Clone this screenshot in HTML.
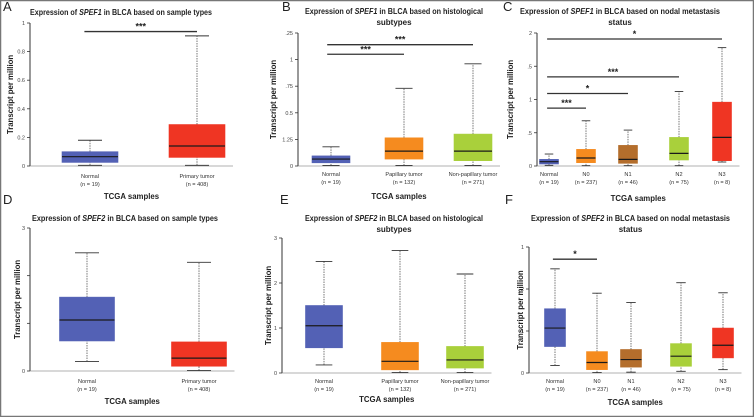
<!DOCTYPE html>
<html><head><meta charset="utf-8"><style>
html,body{margin:0;padding:0;background:#fff;}
svg{display:block;font-family:"Liberation Sans",sans-serif;}
</style></head><body>
<svg id="fig" width="754" height="417" viewBox="0 0 754 417" xmlns="http://www.w3.org/2000/svg">
<rect x="0.5" y="0.5" width="753" height="416" fill="#fff" stroke="#777" stroke-width="1.5"/>
</svg>
<script>
// ---------- data ----------
const catsA = ["Normal","Primary tumor"];
const nA = [19,408];
const statsA = [[0.005,0.025,0.065,0.10,0.18],[0.005,0.06,0.14,0.29,0.91]];
const ticksA = [0,0.2,0.4,0.6,0.8,1];
const tickLabelsA = ["0","0.2","0.4","0.6","0.8","1"];

const catsB = ["Normal","Papillary tumor","Non-papillary tumor"];
const nB = [19,132,271];
const statsB = [[0.005,0.03,0.065,0.095,0.18],[0.005,0.065,0.14,0.265,0.73],[0.005,0.05,0.14,0.30,0.96]];
const ticksB = [0,0.25,0.5,0.75,1,1.25];
const tickLabelsB = ["0","1.25","0.5",".75","1",".25"];

const catsC = ["Normal","N0","N1","N2","N3"];
const nC = [19,237,46,75,8];
const statsC = [[0.01,0.03,0.065,0.10,0.18],[0.005,0.05,0.12,0.25,0.68],[0.005,0.04,0.10,0.31,0.54],[0.005,0.09,0.19,0.43,1.12],[0.06,0.08,0.43,0.96,1.78]];
const ticksC = [0,0.5,1,1.5,2];
const tickLabelsC = ["0",".5","1",".5","2"];

const catsD = ["Normal","Primary tumor"];
const nD = [19,408];
const statsD = [[0.2,0.63,1.07,1.55,2.48],[0.01,0.10,0.27,0.61,2.28]];
const ticksD = [0,1,2,3];
const tickLabelsD = ["0","","","3"];

const catsE = ["Normal","Papillary tumor","Non-papillary tumor"];
const nE = [19,132,271];
const statsE = [[0.18,0.56,1.05,1.50,2.48],[0.01,0.07,0.26,0.68,2.72],[0.01,0.11,0.29,0.59,2.20]];
const ticksE = [0,1,2,3];
const tickLabelsE = ["0","1","2","3"];

const catsF = ["Normal","N0","N1","N2","N3"];
const nF = [19,237,46,75,8];
const statsF = [[0.18,0.63,1.07,1.53,2.48],[0.01,0.08,0.25,0.51,1.90],[0.02,0.14,0.32,0.56,1.68],[0.04,0.16,0.40,0.70,2.15],[0.08,0.36,0.66,1.07,1.91]];
const ticksF = [0,1,2,3];
const tickLabelsF = ["0","1","2","1"];

// significance: [fromIndex, toIndex, label, yValue]
const sigA = [[0,1,"***",0.94]];
const sigB = [[0,2,"***",1.14],[0,1,"***",1.05]];
const sigC = [[0,4,"*",1.91],[0,3,"***",1.34],[0,2,"*",1.09],[0,1,"***",0.87]];
const sigF = [[0,1,"*",2.71]];

// ---------- layout (pixels) ----------
const NS="http://www.w3.org/2000/svg";
const svg=document.getElementById('fig');
function el(tag,attrs,parent){const e=document.createElementNS(NS,tag);for(const k in attrs)e.setAttribute(k,attrs[k]);(parent||svg).appendChild(e);return e;}
const blue="#5361b5",red="#ef3523",orange="#f58b1f",brown="#b46e2c",green="#a9d03b";

const panels=[
 {id:"a",letter:"A",lx:3,ly:11,gene:"SPEF1",title:["based on sample types"],tx:30,ty:15,tw:182,axisX:30,yTop:23,yBot:166,ymax:1,ticks:ticksA,tl:tickLabelsA,cats:catsA,n:nA,stats:statsA,cx:[90,197],bw:56,colors:[blue,red],sig:sigA,labY:178,tcgaY:199,yTitleX:10},
 {id:"b",letter:"B",lx:282,ly:11,gene:"SPEF1",title:["based on histological","subtypes"],tx:305,ty:14,tw:178,axisX:298,yTop:33,yBot:166,ymax:1.25,ticks:ticksB,tl:tickLabelsB,cats:catsB,n:nB,stats:statsB,cx:[331,404,473],bw:38,colors:[blue,orange,green],sig:sigB,labY:176,tcgaY:199,yTitleX:273},
 {id:"c",letter:"C",lx:503,ly:11,gene:"SPEF1",title:["based on nodal metastasis","status"],tx:520,ty:14,tw:200,axisX:537,yTop:33,yBot:166,ymax:2,ticks:ticksC,tl:tickLabelsC,cats:catsC,n:nC,stats:statsC,cx:[549,586,628,679,722],bw:19,colors:[blue,orange,brown,green,red],sig:sigC,labY:176,tcgaY:201,yTitleX:510},
 {id:"d",letter:"D",lx:3,ly:204,gene:"SPEF2",title:["based on sample types"],tx:32,ty:221,tw:186,axisX:30,yTop:228,yBot:371,ymax:3,ticks:ticksD,tl:tickLabelsD,cats:catsD,n:nD,stats:statsD,cx:[87,199],bw:55,colors:[blue,red],sig:[],labY:383,tcgaY:404,yTitleX:17},
 {id:"e",letter:"E",lx:280,ly:204,gene:"SPEF2",title:["based on histological","subtypes"],tx:305,ty:221,tw:178,axisX:282,yTop:238,yBot:373,ymax:3,ticks:ticksE,tl:tickLabelsE,cats:catsE,n:nE,stats:statsE,cx:[324,400,465],bw:37,colors:[blue,orange,green],sig:[],labY:383,tcgaY:402,yTitleX:268},
 {id:"f",letter:"F",lx:505,ly:204,gene:"SPEF2",title:["based on nodal metastasis","status"],tx:531,ty:221,tw:199,axisX:529,yTop:247,yBot:373,ymax:3,ticks:ticksF,tl:tickLabelsF,cats:catsF,n:nF,stats:statsF,cx:[555,597,631,681,723],bw:21,colors:[blue,orange,brown,green,red],sig:sigF,labY:383,tcgaY:405,yTitleX:520}
];

panels.forEach(p=>{
  const g=el('g',{});
  
  
  const Y=v=>p.yBot-(v/p.ymax)*(p.yBot-p.yTop);
  const L=el('text',{x:p.lx,y:p.ly,'font-size':13,fill:'#222'},g);L.textContent=p.letter;
  
  
  // title
  const t1=el('text',{x:p.tx,y:p.ty,'font-size':8.2,'font-weight':'bold',fill:'#222',textLength:p.tw,lengthAdjust:'spacingAndGlyphs'},g);
  
  
  t1.innerHTML='Expression of <tspan font-style="italic">'+p.gene+'</tspan> in BLCA '+p.title[0];
  if(p.title.length>1){
    const t2=el('text',{x:p.tx+p.tw/2,y:p.ty+11,'font-size':8,'font-weight':'bold',fill:'#222','text-anchor':'middle'},g);
    t2.textContent=p.title[1];
    
    
  }
  // axis
  const ax=el('line',{x1:p.axisX,y1:p.yTop,x2:p.axisX,y2:p.yBot,stroke:'#333','stroke-width':1},g);
  
  
  const xl=p.cx[p.cx.length-1]+p.bw/2+8;
  const bx=el('line',{x1:p.axisX,y1:p.yBot,x2:xl,y2:p.yBot,stroke:'#666','stroke-width':0.6},g);
  
  
  p.ticks.forEach((v,i)=>{
    const tk=el('line',{x1:p.axisX-3,y1:Y(v),x2:p.axisX,y2:Y(v),stroke:'#333','stroke-width':0.8},g);
    
    
    const tt=el('text',{x:p.axisX-5,y:Y(v)+2,'font-size':5.5,fill:'#444','text-anchor':'end'},g);
    tt.textContent=p.tl[i];
    
    
  });
  const yt=el('text',{x:0,y:0,'font-size':7.8,'font-weight':'bold',fill:'#222','text-anchor':'middle',transform:`translate(${p.yTitleX+3},${(p.yTop+p.yBot)/2}) rotate(-90)`},g);
  yt.textContent='Transcript per million';
  
  
  // boxes
  p.stats.forEach((s,i)=>{
    const c=p.cx[i],hw=p.bw/2,cw=Math.min(hw*0.45,12);
    const bg=el('g',{},g);
    
    
    el('line',{x1:c,y1:Y(s[0]),x2:c,y2:Y(s[1]),stroke:'#555','stroke-width':0.8,'stroke-dasharray':'1.5,1'},bg);
    el('line',{x1:c,y1:Y(s[3]),x2:c,y2:Y(s[4]),stroke:'#555','stroke-width':0.8,'stroke-dasharray':'1.5,1'},bg);
    el('line',{x1:c-cw,y1:Y(s[0]),x2:c+cw,y2:Y(s[0]),stroke:'#333','stroke-width':0.9},bg);
    el('line',{x1:c-cw,y1:Y(s[4]),x2:c+cw,y2:Y(s[4]),stroke:'#333','stroke-width':0.9},bg);
    el('rect',{x:c-hw,y:Y(s[3]),width:p.bw,height:Y(s[1])-Y(s[3]),fill:p.colors[i],stroke:p.colors[i],'stroke-width':0.6},bg);
    el('line',{x1:c-hw,y1:Y(s[2]),x2:c+hw,y2:Y(s[2]),stroke:'#1a1a1a','stroke-width':1.2},bg);
    const lb=el('text',{x:c,y:p.labY,'font-size':5.6,fill:'#333','text-anchor':'middle'},g);
    lb.textContent=p.cats[i];
    
    
    const nb=el('text',{x:c,y:p.labY+8,'font-size':5.6,fill:'#333','text-anchor':'middle'},g);
    nb.textContent='(n = '+p.n[i]+')';
    
    
  });
  const xt=el('text',{x:(p.axisX+xl)/2,y:p.tcgaY,'font-size':7.8,'font-weight':'bold',fill:'#222','text-anchor':'middle'},g);
  xt.textContent='TCGA samples';
  
  
  // significance
  p.sig.forEach(sg=>{
    const x1=p.cx[sg[0]]-p.bw*0.1,x2=p.cx[sg[1]],yy=Y(sg[3]);
    const ln=el('line',{x1:x1,y1:yy,x2:x2,y2:yy,stroke:'#333','stroke-width':1.3},g);
    
    
    const st=el('text',{x:(x1+x2)/2,y:yy-2,'font-size':9,'font-weight':'bold',fill:'#222','text-anchor':'middle'},g);
    st.textContent=sg[2];
    
    
  });
});
</script>
</body></html>
